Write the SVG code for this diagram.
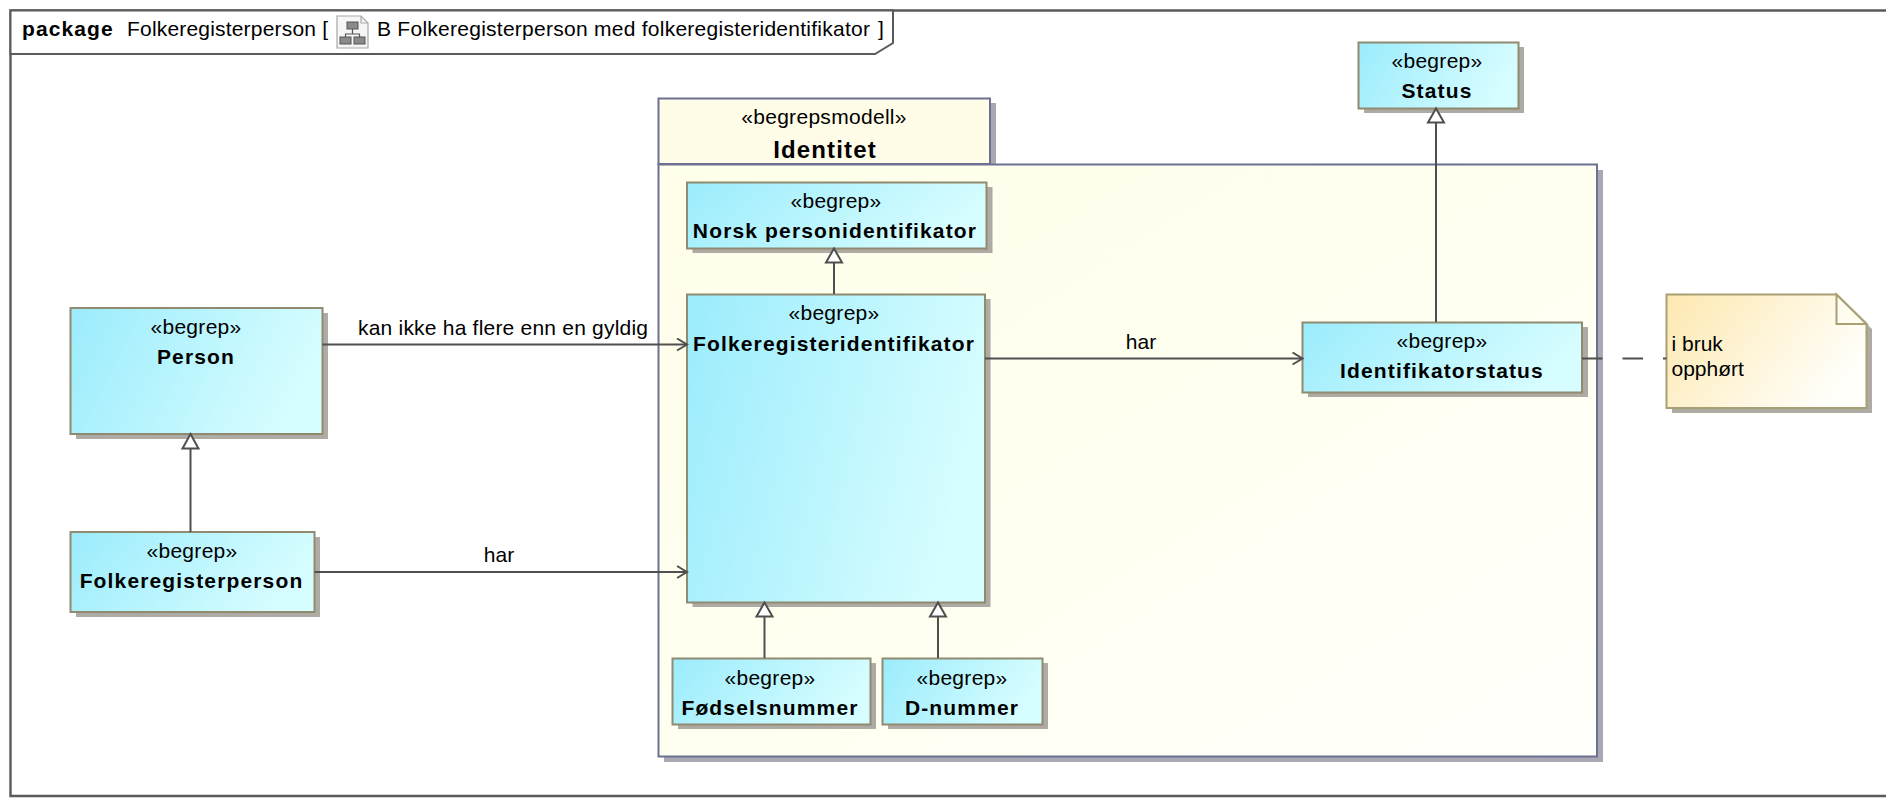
<svg xmlns="http://www.w3.org/2000/svg" width="1886" height="806" viewBox="0 0 1886 806">
<style>
text{font-family:"Liberation Sans",Arial,sans-serif;fill:#000;font-size:21px}
.st{text-anchor:middle;letter-spacing:.3px}
.lb{text-anchor:middle}
.nm{text-anchor:middle;font-weight:bold;letter-spacing:1.15px}
.box{fill:url(#blue);stroke:#8f8a70;stroke-width:2}
.shadow{fill:#aeaaa4}
.pshadow{fill:#a9a9b4}
.pkg{stroke:#6c7192;stroke-width:2}
.conn{fill:none;stroke:#4f4f4f;stroke-width:2}
.gen{fill:#fff;stroke:#4f4f4f;stroke-width:2}
.frame{fill:none;stroke:#5a5a5a;stroke-width:2.4}
</style>
<defs>
<linearGradient id="blue" x1="0" y1="0" x2="1" y2="0.25"><stop offset="0" stop-color="#9becfc"/><stop offset="1" stop-color="#d6fdff"/></linearGradient>
<linearGradient id="cream" x1="0" y1="0" x2="1" y2="1"><stop offset="0" stop-color="#fffeea"/><stop offset="0.6" stop-color="#fffff2"/><stop offset="1" stop-color="#fffffb"/></linearGradient>
<linearGradient id="note" x1="0" y1="0" x2="1" y2="0.45"><stop offset="0" stop-color="#fde8b0"/><stop offset="1" stop-color="#fffef8"/></linearGradient>
<marker id="open" markerUnits="userSpaceOnUse" markerWidth="14" markerHeight="16" refX="11" refY="7" orient="auto"><path d="M1 1 L11 7 L1 13" fill="none" stroke="#4f4f4f" stroke-width="2"/></marker>
</defs>
<rect width="1886" height="806" fill="#fff"/>
<g id="frame">
<path class="frame" d="M1886 10.500 H10.500 V796 H1886"/>
<path d="M10.500 10.500 H893 V43 L875 54 H10.500 Z" fill="#fff" stroke="#5a5a5a" stroke-width="2"/>
<text x="22" y="36" font-weight="bold" letter-spacing="1.1">package</text>
<text x="127" y="36" textLength="201" lengthAdjust="spacing">Folkeregisterperson [</text>
<g id="frame-icon">
<path d="M337 16 H361 L368 23 V48 H337 Z" fill="#f6f6f6" stroke="#a8a8a8" stroke-width="1.2"/>
<path d="M361 16 V23 H368" fill="none" stroke="#a8a8a8" stroke-width="1.2"/>
<rect x="347" y="22" width="11" height="7" fill="#8a8a8a" stroke="#555"/>
<rect x="340" y="37" width="11" height="7" fill="#8a8a8a" stroke="#555"/>
<rect x="354" y="37" width="11" height="7" fill="#8a8a8a" stroke="#555"/>
<path d="M352.500 29 V34 M345.500 37 V34 H359.500 V37" fill="none" stroke="#555" stroke-width="1.200"/>
</g>
<text x="377" y="36" textLength="493" lengthAdjust="spacing">B Folkeregisterperson med folkeregisteridentifikator</text>
<text x="878" y="36">]</text>
</g>
<g id="pkg-identitet">
<rect class="pshadow" x="664" y="103" width="332" height="65"/>
<rect class="pshadow" x="664" y="170" width="939" height="592"/>
<rect class="pkg" x="658.500" y="98.500" width="331.500" height="65.500" fill="#fffde8"/>
<rect class="pkg" x="658.500" y="164.500" width="938.500" height="592" fill="url(#cream)"/>
<text class="st" x="824" y="124">«begrepsmodell»</text>
<text class="nm" x="825" y="158" style="font-size:24px">Identitet</text>
</g>
<g id="person">
<rect class="shadow" x="76" y="313" width="252" height="126"/>
<rect class="box" x="70.500" y="308" width="252" height="126"/>
<text class="st" x="196" y="334">«begrep»</text><text class="nm" x="196" y="364">Person</text>
</g>
<g id="folkeregisterperson">
<rect class="shadow" x="76" y="537" width="244" height="80"/>
<rect class="box" x="70.500" y="532" width="244" height="80"/>
<text class="st" x="192" y="558">«begrep»</text><text class="nm" x="191.500" y="588">Folkeregisterperson</text>
</g>
<g id="norsk-personidentifikator">
<rect class="shadow" x="692.500" y="187" width="300" height="66"/>
<rect class="box" x="687" y="182.500" width="299.500" height="66"/>
<text class="st" x="836" y="208">«begrep»</text><text class="nm" x="835" y="238">Norsk personidentifikator</text>
</g>
<g id="folkeregisteridentifikator">
<rect class="shadow" x="692.500" y="299" width="298" height="308"/>
<rect class="box" x="687" y="294.500" width="298" height="308"/>
<text class="st" x="834" y="320">«begrep»</text><text class="nm" x="834" y="351">Folkeregisteridentifikator</text>
</g>
<g id="fodselsnummer">
<rect class="shadow" x="678" y="663" width="198" height="66"/>
<rect class="box" x="672.500" y="658.500" width="198" height="66"/>
<text class="st" x="770" y="685">«begrep»</text><text class="nm" x="770" y="715">Fødselsnummer</text>
</g>
<g id="d-nummer">
<rect class="shadow" x="888" y="663" width="160" height="66"/>
<rect class="box" x="882.500" y="658.500" width="160" height="66"/>
<text class="st" x="962" y="685">«begrep»</text><text class="nm" x="962" y="715">D-nummer</text>
</g>
<g id="status">
<rect class="shadow" x="1364" y="47" width="160" height="66"/>
<rect class="box" x="1358.500" y="42.500" width="160" height="66"/>
<text class="st" x="1437" y="68">«begrep»</text><text class="nm" x="1437" y="98">Status</text>
</g>
<g id="identifikatorstatus">
<rect class="shadow" x="1308" y="327" width="280" height="70"/>
<rect class="box" x="1302.500" y="322.500" width="279.500" height="70"/>
<text class="st" x="1442" y="348">«begrep»</text><text class="nm" x="1442" y="378">Identifikatorstatus</text>
</g>
<g id="note">
<path class="shadow" d="M1672 300 H1842 L1872 329 V413 H1672 Z"/>
<path d="M1666.500 294.500 H1836.500 L1866.500 324 V408 H1666.500 Z" fill="url(#note)" stroke="#a89f74" stroke-width="2"/>
<path d="M1836.500 294.500 V324 H1866.500 Z" fill="#fffdf0" stroke="#a89f74" stroke-width="2"/>
<text x="1671.500" y="351">i bruk</text><text x="1671.500" y="375.500">opphørt</text>
</g>
<g id="connectors">
<path class="conn" d="M322.500 344.500 H687" marker-end="url(#open)"/>
<path class="conn" d="M314.500 572 H687" marker-end="url(#open)"/>
<path class="conn" d="M985 358.500 H1302.500" marker-end="url(#open)"/>
<path class="conn" d="M1582 358.500 H1666.500" stroke-dasharray="20.500 20"/>
<path class="conn" d="M190.500 532 V448"/><path class="gen" d="M190.500 434 L198.500 448.500 H182.500 Z"/>
<path class="conn" d="M834 294 V262"/><path class="gen" d="M834 248.500 L842 262.500 H826 Z"/>
<path class="conn" d="M764.500 658 V616"/><path class="gen" d="M764.500 602.500 L772.500 616.500 H756.500 Z"/>
<path class="conn" d="M938 658 V616"/><path class="gen" d="M938 602.500 L946 616.500 H930 Z"/>
<path class="conn" d="M1436 322 V122"/><path class="gen" d="M1436 108.500 L1444 122.500 H1428 Z"/>
<text x="503" y="335" class="lb" textLength="290" lengthAdjust="spacing">kan ikke ha flere enn en gyldig</text>
<text x="499" y="562" class="lb">har</text>
<text x="1141" y="349" class="lb">har</text>
</g>
</svg>
